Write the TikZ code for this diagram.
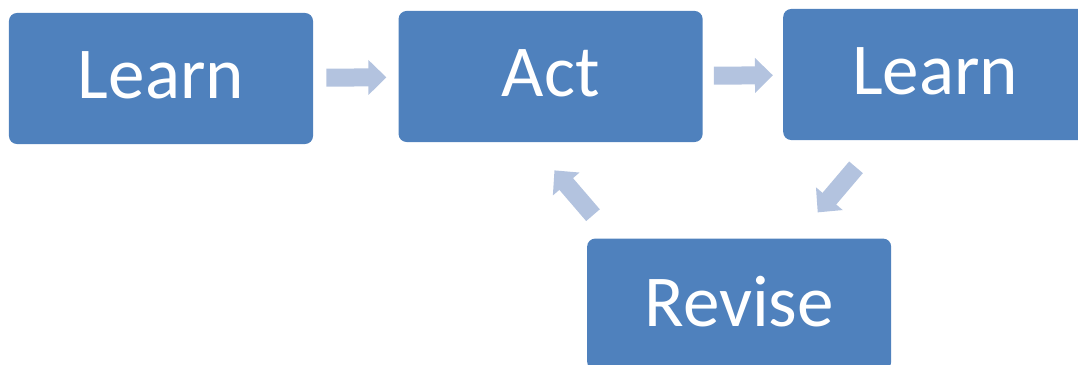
\documentclass[tikz,border=0pt]{standalone}
\usepackage{fontspec}
\setmainfont{Carlito}
\usetikzlibrary{positioning,arrows.meta}

\definecolor{boxblue}{HTML}{4F81BD}
\definecolor{flowblue}{HTML}{B3C3DF}

\tikzset{
  box/.style={fill=boxblue, text=white, rounded corners=5.7pt, inner sep=0pt,
    minimum width=216.2pt, minimum height=93.2pt, text depth=4.2pt,
    font=\fontsize{52}{60}\selectfont},
  flow/.style={draw=flowblue, line width=12.8pt,
    -{Triangle[length=12.8pt, width=24.2pt]}},
}

\begin{document}
\begin{tikzpicture}[x=0.025cm, y=-0.025cm]

  \useasboundingbox (0,0) rectangle (1078,365);
  \clip (0,0) rectangle (1078,365);

  % Boxes
  \node[box]                                  (lrn1) at (161,78.5) {Learn}; %
  \node[box, right=2.125cm of lrn1, yshift=0.05cm] (act)  {Act}; %
  \node[box, right=2cm of act, yshift=0.05cm]      (lrn2) {Learn}; %
  \node[box, below=2.4cm of act, xshift=4.7125cm]  (rev)  {Revise}; %

  % Arrows
  \draw[flow, shorten <=9.25pt, shorten >=8.5pt] (lrn1) -- (act) ; %
  \draw[flow, shorten <=7.8pt, shorten >=7.1pt] (act) -- (lrn2) ; %
  \draw[flow, shorten <=25.2pt, shorten >=24.2pt]
    ([xshift=2.4cm]lrn2.south west) -- ([xshift=1.4125cm]rev.north) ; %
  \draw[flow, shorten <=21.7pt, shorten >=26.3pt]
    ([xshift=0.65cm]rev.north west) -- ([xshift=3.3cm]act.south west) ; %

\end{tikzpicture}
\end{document}
